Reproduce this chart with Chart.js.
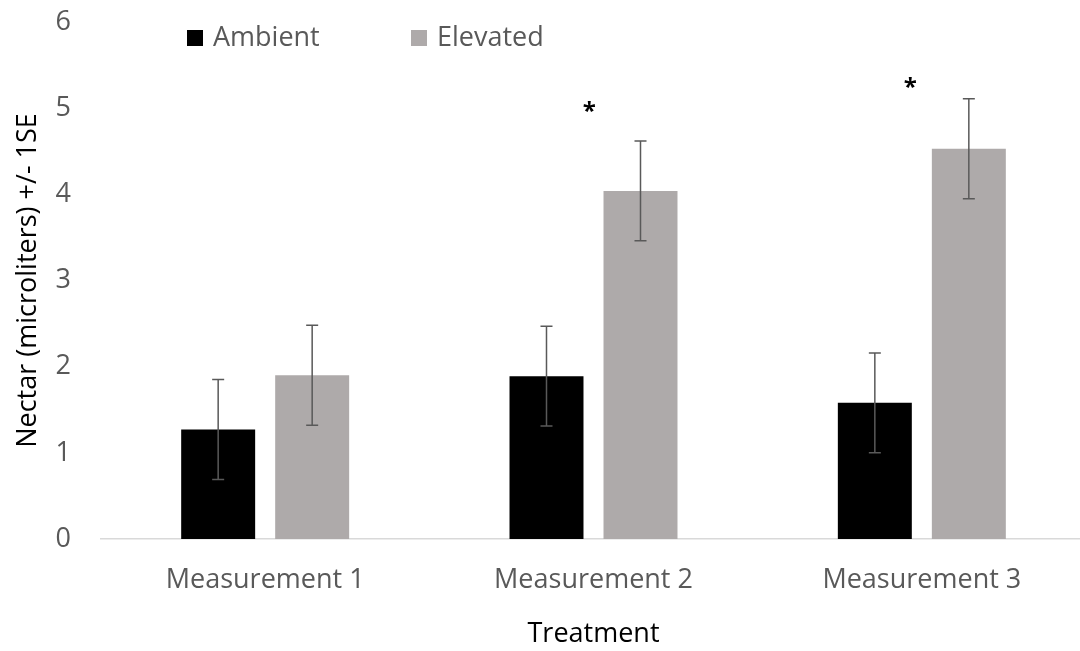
<!DOCTYPE html>
<html>
<head>
<meta charset="utf-8">
<script src="https://cdn.jsdelivr.net/npm/chart.js@4/dist/chart.umd.min.js"></script>
<style>
  html, body { margin: 0; padding: 0; background: #fff; overflow: hidden; }
  #wrap { width: 1090px; height: 651px; }
</style>
</head>
<body>
<div id="wrap"><canvas id="myChart"></canvas></div>
<script>
const categories = ['Measurement 1', 'Measurement 2', 'Measurement 3'];
const ambient = [1.27, 1.89, 1.58];
const elevated = [1.90, 4.04, 4.53];
const ambientSE = [0.58, 0.58, 0.58];
const elevatedSE = [0.58, 0.58, 0.58];
// significance stars: category position and height in data units
const starX = [0.987, 1.965];
const starY = [5.02, 5.30];
const yTicks = [0, 1, 2, 3, 4, 5, 6];

const FONT = '"Open Sans", "Liberation Sans", sans-serif';

// error bars drawn from the SE arrays
const errorBars = {
    id: 'errorBars',
    afterDatasetsDraw(chart) {
        const ctx = chart.ctx;
        const y = chart.scales.y;
        const se = [ambientSE, elevatedSE];
        ctx.save();
        ctx.strokeStyle = '#595959';
        ctx.lineWidth = 1.5;
        chart.data.datasets.forEach((ds, di) => {
            chart.getDatasetMeta(di).data.forEach((bar, i) => {
                const top = y.getPixelForValue(ds.data[i] + se[di][i]);
                const bot = y.getPixelForValue(ds.data[i] - se[di][i]);
                ctx.beginPath();
                ctx.moveTo(bar.x, top);
                ctx.lineTo(bar.x, bot);
                ctx.moveTo(bar.x - 6, top);
                ctx.lineTo(bar.x + 6, top);
                ctx.moveTo(bar.x - 6, bot);
                ctx.lineTo(bar.x + 6, bot);
                ctx.stroke();
            });
        });
        ctx.restore();
    }
};

// asterisks and the legend
const extras = {
    id: 'extras',
    afterDraw(chart) {
        const ctx = chart.ctx;
        const x = chart.scales.x;
        const y = chart.scales.y;
        ctx.save();
        ctx.fillStyle = '#000';
        ctx.font = 'bold 24px ' + FONT;
        ctx.textAlign = 'center';
        ctx.textBaseline = 'alphabetic';
        starX.forEach((sx, i) => {
            ctx.fillText('*', x.getPixelForValue(sx), y.getPixelForValue(starY[i]) + 13);
        });

        const left = chart.chartArea.left;
        const pos = [left + 86, left + 310];
        ctx.font = '27px ' + FONT;
        ctx.textAlign = 'left';
        ctx.textBaseline = 'middle';
        chart.data.datasets.forEach((ds, i) => {
            ctx.fillStyle = ds.backgroundColor;
            ctx.fillRect(pos[i], 30, 16, 16);
            ctx.fillStyle = '#595959';
            ctx.fillText(ds.label, pos[i] + 26, 38);
        });
        ctx.restore();
    }
};

new Chart(document.getElementById('myChart'), {
    type: 'bar',
    data: {
        labels: categories,
        datasets: [
            {
                label: 'Ambient',
                data: ambient,
                backgroundColor: '#000000',
                categoryPercentage: 0.5726,
                barPercentage: 0.787
            },
            {
                label: 'Elevated',
                data: elevated,
                backgroundColor: '#AEAAAA',
                categoryPercentage: 0.5726,
                barPercentage: 0.787
            }
        ]
    },
    options: {
        responsive: true,
        maintainAspectRatio: false,
        animation: false,
        layout: { padding: { top: 22, right: 4, bottom: 0, left: 0 } },
        plugins: {
            legend: { display: false },
            tooltip: { enabled: false }
        },
        scales: {
            x: {
                grid: { display: false, drawTicks: false },
                border: { display: true, color: '#d9d9d9', width: 1.5 },
                ticks: { color: '#595959', font: { family: FONT, size: 27 }, padding: 25 },
                title: {
                    display: true,
                    text: 'Treatment',
                    color: '#000',
                    font: { family: FONT, size: 27 },
                    padding: { top: 0, bottom: 0 }
                },
                afterFit: (scale) => {
                    scale.height = 112;
                    scale.paddingLeft = 0;
                    scale.paddingRight = 0;
                }
            },
            y: {
                min: 0,
                max: 6,
                grid: { display: false, drawTicks: false },
                border: { display: false },
                afterBuildTicks: (scale) => { scale.ticks = yTicks.map(v => ({ value: v })); },
                ticks: { color: '#595959', font: { family: FONT, size: 27 }, padding: 30 },
                title: {
                    display: true,
                    text: 'Nectar (microliters) +/- 1SE',
                    color: '#000',
                    font: { family: FONT, size: 27 },
                    padding: { top: 12, bottom: 0 }
                },
                afterFit: (scale) => {
                    scale.width = 101;
                    scale.paddingTop = 0;
                    scale.paddingBottom = 0;
                }
            }
        }
    },
    plugins: [errorBars, extras]
});
</script>
</body>
</html>
